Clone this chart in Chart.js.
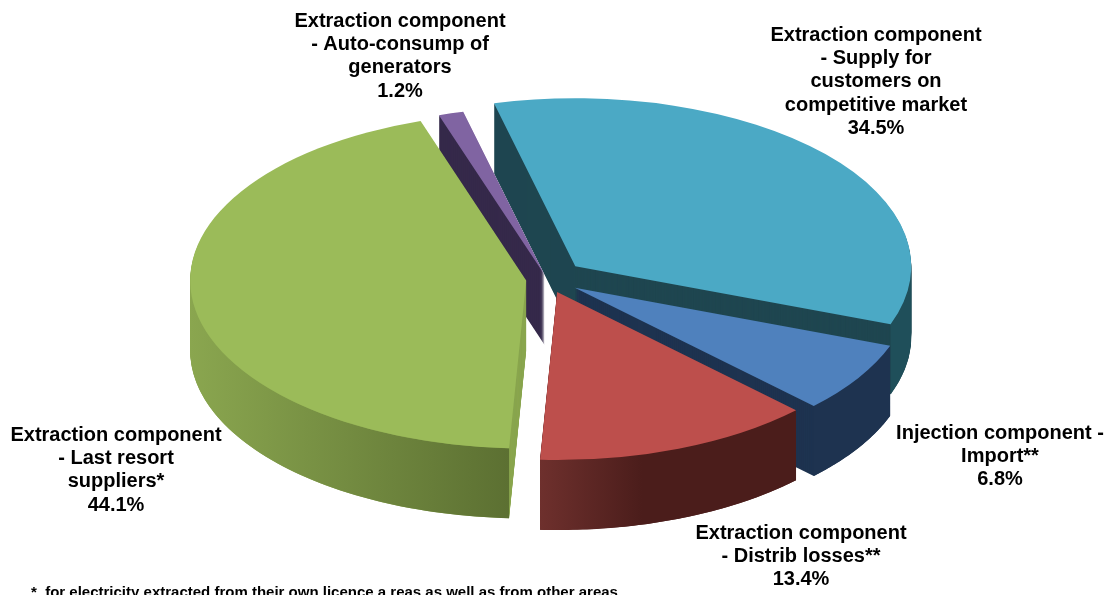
<!DOCTYPE html>
<html>
<head>
<meta charset="utf-8">
<title>Pie</title>
<script src="https://cdn.jsdelivr.net/npm/chart.js@4"></script>
<style>
  html, body { margin: 0; padding: 0; background: #fff; overflow: hidden; }
  canvas { display: block; }
</style>
</head>
<body>
<canvas id="pieCanvas" width="1110" height="595"></canvas>
<script>
  // clockwise, starting from the teal slice
  const categories = [
    ['Extraction component', '- Supply for', 'customers on', 'competitive market'],
    ['Injection component -', 'Import**'],
    ['Extraction component', '- Distrib losses**'],
    ['Extraction component', '- Last resort', 'suppliers*'],
    ['Extraction component', '- Auto-consump of', 'generators']
  ];
  const shares = [34.5, 6.8, 13.4, 44.1, 1.2];
  const footnote = '*  for electricity extracted from their own licence a reas as well as from other areas';

  const topColors = ['#4BA9C5', '#4F81BD', '#BD4F4C', '#9BBB59', '#8064A2'];
  const wallColors = ['#1F4650', '#1E3350', '#4D1E1C', '#8AA64F', '#35294A'];
  const rimColors = [
    ['#1F4F5A', '#1F4F5A'],
    ['#1E3350', '#1E3350'],
    ['#6E302D', '#4B1D1B'],
    ['#8AA64F', '#5C7032'],
    ['#35294A', '#35294A']
  ];
  const explode = [38, 33, 28, 21, 9];
  const labelAnchors = [[876, 35], [1000, 433], [801, 533], [116, 435], [400, 21]];
  const drawOrder = [0, 4, 1, 2, 3];

  const SQUASH = 0.5;
  const DEPTH = 70;

  const pie3d = {
    id: 'pie3d',
    beforeDatasetDraw(chart, args) {
      const ctx = chart.ctx;
      drawOrder.forEach(function(i) {
        const arc = args.meta.data[i];
        const mid = (arc.startAngle + arc.endAngle) / 2;
        const dx = Math.cos(mid) * explode[i];
        const dy = Math.sin(mid) * explode[i] * SQUASH;
        const r = arc.outerRadius;

        function place(down) {
          ctx.translate(arc.x + dx, arc.y + dy + down);
          ctx.scale(1, SQUASH);
          ctx.translate(-arc.x, -arc.y);
        }

        // cut edges
        ctx.save();
        ctx.fillStyle = wallColors[i];
        for (let d = DEPTH; d > 0; d -= 1) {
          ctx.save();
          place(d);
          ctx.beginPath();
          ctx.moveTo(arc.x, arc.y);
          ctx.arc(arc.x, arc.y, r, arc.startAngle, arc.endAngle);
          ctx.closePath();
          ctx.fill();
          ctx.restore();
        }
        ctx.restore();

        // outer rim, only the part that faces the viewer
        const a0 = Math.max(arc.startAngle, 0);
        const a1 = Math.min(arc.endAngle, Math.PI);
        if (a1 > a0) {
          const rimSteps = 60;
          const x0 = arc.x + dx + Math.cos(a1) * r;
          const x1 = arc.x + dx + Math.cos(a0) * r;
          const grad = ctx.createLinearGradient(x0, 0, x1, 0);
          grad.addColorStop(0, rimColors[i][0]);
          grad.addColorStop(i === 2 ? 0.4 : 1, rimColors[i][1]);
          grad.addColorStop(1, rimColors[i][1]);
          ctx.save();
          ctx.fillStyle = grad;
          ctx.beginPath();
          for (let k = 0; k <= rimSteps; k++) {
            const a = a0 + (a1 - a0) * k / rimSteps;
            const px = arc.x + dx + Math.cos(a) * r;
            const py = arc.y + dy + Math.sin(a) * r * SQUASH;
            if (k === 0) ctx.moveTo(px, py); else ctx.lineTo(px, py);
          }
          for (let k = rimSteps; k >= 0; k--) {
            const a = a0 + (a1 - a0) * k / rimSteps;
            ctx.lineTo(arc.x + dx + Math.cos(a) * r, arc.y + dy + DEPTH + Math.sin(a) * r * SQUASH);
          }
          ctx.closePath();
          ctx.fill();
          ctx.restore();
        }

        // top face, the library's own arc
        ctx.save();
        place(0);
        arc.draw(ctx);
        ctx.restore();
      });
      return false;
    },
    afterDraw(chart) {
      const ctx = chart.ctx;
      ctx.save();
      ctx.fillStyle = '#000';
      ctx.textAlign = 'center';
      ctx.textBaseline = 'middle';
      ctx.font = 'bold 20px "Liberation Sans", Arial, sans-serif';
      categories.forEach(function(lines, i) {
        lines.concat(shares[i].toFixed(1) + '%').forEach(function(line, n) {
          ctx.fillText(line, labelAnchors[i][0], labelAnchors[i][1] + n * 23.4);
        });
      });
      ctx.textAlign = 'left';
      ctx.textBaseline = 'alphabetic';
      ctx.font = 'bold 15px "Liberation Sans", Arial, sans-serif';
      ctx.fillText(footnote, 31, 597);
      ctx.restore();
    }
  };

  new Chart(document.getElementById('pieCanvas'), {
    type: 'pie',
    data: {
      labels: categories.map(function(c) { return c.join(' '); }),
      datasets: [{
        data: shares,
        backgroundColor: topColors,
        borderWidth: 0
      }]
    },
    options: {
      responsive: false,
      animation: false,
      rotation: -14,
      radius: 336,
      layout: { padding: { right: 16, bottom: 37 } },
      events: [],
      plugins: {
        legend: { display: false },
        tooltip: { enabled: false }
      }
    },
    plugins: [pie3d]
  });
</script>
</body>
</html>
